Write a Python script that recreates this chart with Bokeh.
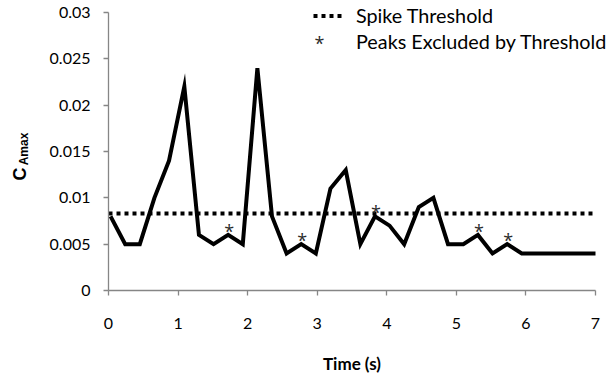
import math

from bokeh.core.properties import value
from bokeh.embed import file_html
from bokeh.models import (ColumnDataSource, FixedTicker, HTMLLabel, Label, Legend,
                          LegendItem, Range1d)
from bokeh.plotting import figure
from bokeh.resources import INLINE

# Sampled peak coefficient over time
time_s = [0.03, 0.24, 0.45, 0.66, 0.87, 1.09, 1.30, 1.51, 1.72, 1.93,
          2.14, 2.35, 2.56, 2.77, 2.98, 3.19, 3.41, 3.62, 3.83, 4.04,
          4.25, 4.46, 4.67, 4.88, 5.10, 5.31, 5.52, 5.73, 5.94, 6.15,
          6.36, 6.58, 6.79, 7.00]
c_amax = [0.008, 0.005, 0.005, 0.010, 0.014, 0.022, 0.006, 0.005, 0.006, 0.005,
          0.024, 0.008, 0.004, 0.005, 0.004, 0.011, 0.013, 0.005, 0.008, 0.007,
          0.005, 0.009, 0.010, 0.005, 0.005, 0.006, 0.004, 0.005, 0.004, 0.004,
          0.004, 0.004, 0.004, 0.004]

# Local peaks that fall below the spike threshold (indices into the series)
excluded_peaks = [8, 13, 18, 25, 27]
spike_threshold = 0.0083

x_ticks = [0, 1, 2, 3, 4, 5, 6, 7]
y_ticks = [0, 0.005, 0.01, 0.015, 0.02, 0.025, 0.03]
y_tick_labels = ["0", "0.005", "0.01", "0.015", "0.02", "0.025", "0.03"]

FONT = "Lato"
STAR_FONT = "Open Sans"
AXIS_GREY = "#868686"
STAR_COLOR = "#2b2b2b"

# Canvas layout in pixels: the axes sit inside a frame that covers the whole
# canvas, so the titles and the key can go anywhere on it.
W, H = 612, 373
LEFT, RIGHT, TOP, BOTTOM = 108, 595, 12, 290
x_lo, x_hi = x_ticks[0], x_ticks[-1]
y_lo, y_hi = y_ticks[0], y_ticks[-1]
px_x = (RIGHT - LEFT) / (x_hi - x_lo)
px_y = (BOTTOM - TOP) / (y_hi - y_lo)


def sx(px):
    return x_lo + (px - LEFT) / px_x


def sy(py):
    return y_lo + (BOTTOM - py) / px_y


p = figure(width=W, height=H, output_backend="svg", toolbar_location=None,
           x_range=Range1d(sx(0), sx(W)), y_range=Range1d(sy(H), sy(0)),
           min_border=0)
p.outline_line_color = None
p.xgrid.visible = False
p.ygrid.visible = False
p.background_fill_color = "white"
p.border_fill_color = "white"

for ax in (p.xaxis[0], p.yaxis[0]):
    ax.axis_line_color = AXIS_GREY
    ax.axis_line_width = 1.3
    ax.major_tick_line_color = AXIS_GREY
    ax.major_tick_line_width = 1.3
    ax.major_tick_out = 5
    ax.major_tick_in = 0
    ax.minor_tick_line_color = None
    ax.major_label_text_font = FONT
    ax.major_label_text_font_size = "16px"
    ax.major_label_text_color = "black"

p.xaxis.fixed_location = y_lo
p.xaxis.bounds = (x_lo, x_hi)
p.xaxis.ticker = FixedTicker(ticks=x_ticks)
p.xaxis.major_label_standoff = 22
p.xaxis.axis_label = "Time (s)"
p.xaxis.axis_label_text_font = FONT
p.xaxis.axis_label_text_font_size = "17px"
p.xaxis.axis_label_text_font_style = "bold"
p.xaxis.axis_label_text_color = "black"
p.xaxis.axis_label_standoff = 21

p.yaxis.fixed_location = x_lo
p.yaxis.bounds = (y_lo, y_hi)
p.yaxis.ticker = FixedTicker(ticks=y_ticks)
p.yaxis.major_label_overrides = dict(zip(y_ticks, y_tick_labels))
p.yaxis.major_label_standoff = 13

# Y axis title: "C" with subscript "Amax", reading bottom to top
p.add_layout(HTMLLabel(x=sx(20), y=sy(174), text="C", angle=math.pi / 2,
                       text_font=FONT, text_font_size="18px", text_font_style="bold",
                       text_color="black", text_align="center", text_baseline="middle"))
p.add_layout(HTMLLabel(x=sx(24), y=sy(149), text="Amax", angle=math.pi / 2,
                       text_font=FONT, text_font_size="12px", text_font_style="bold",
                       text_color="black", text_align="center", text_baseline="middle"))

# Threshold and signal
thr = p.line(x=[x_lo, x_hi], y=[spike_threshold, spike_threshold],
             line_color="black", line_width=4, line_dash="4 4", line_cap="butt")
p.line(x=time_s, y=c_amax, line_color="black", line_width=4, line_join="miter")

peaks = ColumnDataSource(data=dict(
    x=[time_s[i] for i in excluded_peaks],
    y=[c_amax[i] for i in excluded_peaks],
    t=["*"] * len(excluded_peaks),
))
stars = p.text(x="x", y="y", text="t", source=peaks, text_font=value(STAR_FONT),
               text_font_size="18px", text_color=STAR_COLOR, text_align="center",
               text_baseline="middle", x_offset=1, y_offset=-4)

legend = Legend(items=[LegendItem(label="Spike Threshold", renderers=[thr]),
                       LegendItem(label="Peaks Excluded by Threshold", renderers=[stars])],
                location=(313, H - 53), orientation="vertical",
                border_line_color=None, background_fill_alpha=0,
                padding=0, margin=0, spacing=2,
                glyph_width=30, glyph_height=23, label_height=23, label_standoff=13,
                label_text_font=FONT, label_text_font_size="19.8px",
                label_text_color="black")
p.add_layout(legend)

p.add_layout(Label(x=sx(319), y=sy(42), text="*", text_font=STAR_FONT,
                   text_font_size="18px", text_color=STAR_COLOR,
                   text_align="center", text_baseline="middle"))

open("out.html", "w").write(file_html(p, INLINE))
